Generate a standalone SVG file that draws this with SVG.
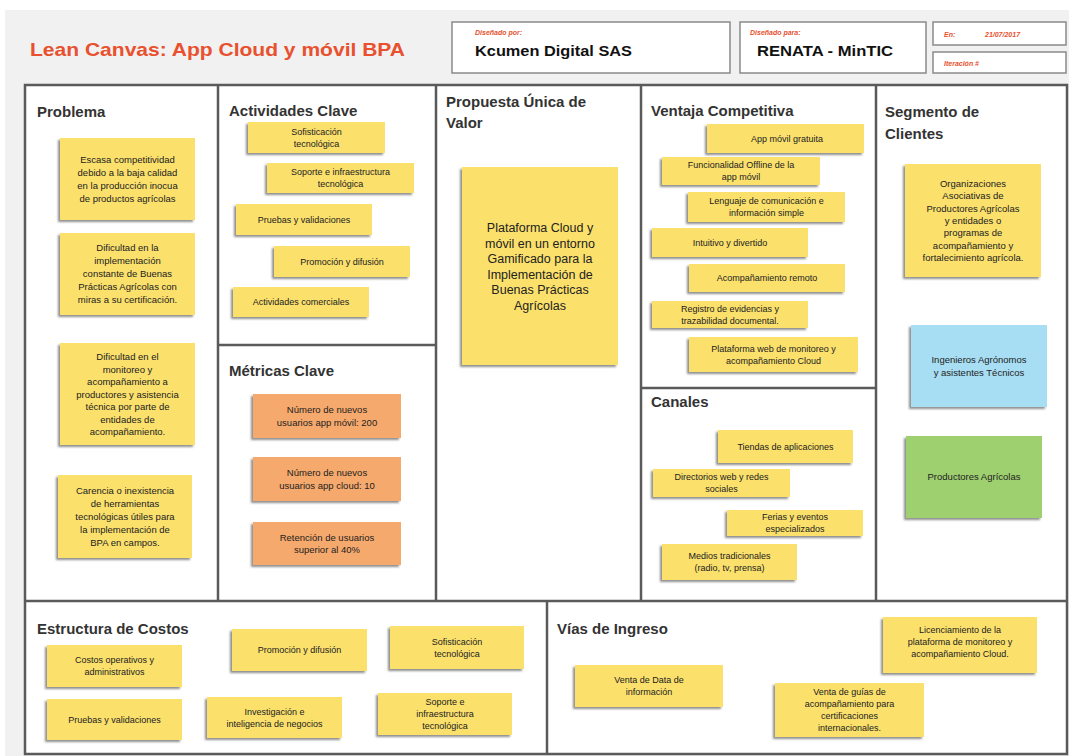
<svg xmlns="http://www.w3.org/2000/svg" width="1069" height="756" viewBox="0 0 1069 756">
<defs>
<filter id="sh" x="-10%" y="-10%" width="120%" height="130%">
<feDropShadow dx="-2" dy="2" stdDeviation="1.2" flood-color="#444" flood-opacity="0.6"/>
</filter>
<style>
.hd{font-family:"Liberation Sans",Arial,sans-serif;font-weight:bold;font-size:15px;fill:#333}
.n{font-family:"Liberation Sans",Arial,sans-serif;font-size:9px;fill:#222;text-anchor:middle}
.n95{font-size:9.5px}
.nb{font-size:12.5px}
.y{fill:#fbe06c;filter:url(#sh)}
.o{fill:#f6a96c;filter:url(#sh)}
.b{fill:#a8def3;filter:url(#sh)}
.g{fill:#9ed06f;filter:url(#sh)}
.ln{stroke:#5a5a5a;stroke-width:2.5;fill:none}
.hb{fill:#fff;stroke:#8a8a8a;stroke-width:1.5}
.lab{font-family:"Liberation Sans",Arial,sans-serif;font-style:italic;font-weight:bold;font-size:7px;fill:#e8502e}
</style>
</defs>
<rect x="0" y="0" width="1069" height="756" fill="#fff"/>
<rect x="5" y="10" width="1064" height="746" fill="#f1f1f1"/>
<text x="30" y="56" font-family="Liberation Sans,Arial,sans-serif" font-weight="bold" font-size="19" fill="#e8502e" textLength="375" lengthAdjust="spacingAndGlyphs">Lean Canvas: App Cloud y móvil BPA</text>
<g id="header">
<rect class="hb" x="452" y="22" width="278" height="51"/>
<text class="lab" x="475" y="35">Diseñado por:</text>
<text x="475" y="56" font-family="Liberation Sans,Arial,sans-serif" font-weight="bold" font-size="15" fill="#111" textLength="157" lengthAdjust="spacingAndGlyphs">Kcumen Digital SAS</text>
<rect class="hb" x="740" y="22" width="186" height="51"/>
<text class="lab" x="750" y="35">Diseñado para:</text>
<text x="757" y="56" font-family="Liberation Sans,Arial,sans-serif" font-weight="bold" font-size="15" fill="#111" textLength="136" lengthAdjust="spacingAndGlyphs">RENATA - MinTIC</text>
<rect class="hb" x="933" y="22" width="133" height="23"/>
<text class="lab" x="944" y="37">En:</text>
<text class="lab" x="985" y="37">21/07/2017</text>
<rect class="hb" x="933" y="52" width="133" height="21"/>
<text class="lab" x="944" y="66">Iteración #</text>
</g>
<rect x="25" y="85" width="1042" height="669" fill="#fff"/>
<g id="connectors">
<rect class="ln" x="25" y="85" width="1042" height="669"/>
<line class="ln" x1="218" y1="85" x2="218" y2="601"/>
<line class="ln" x1="436" y1="85" x2="436" y2="601"/>
<line class="ln" x1="641" y1="85" x2="641" y2="601"/>
<line class="ln" x1="876" y1="85" x2="876" y2="601"/>
<line class="ln" x1="25" y1="601" x2="1067" y2="601"/>
<line class="ln" x1="218" y1="345" x2="436" y2="345"/>
<line class="ln" x1="641" y1="388" x2="876" y2="388"/>
<line class="ln" x1="547" y1="601" x2="547" y2="754"/>
</g>
<g id="problema">
<text class="hd" x="37" y="117">Problema</text>
<rect class="y" x="60" y="138" width="135" height="82"/>
<text class="n n95"><tspan x="127.5" y="163">Escasa competitividad</tspan><tspan x="127.5" y="176">debido a la baja calidad</tspan><tspan x="127.5" y="189">en la producción inocua</tspan><tspan x="127.5" y="202">de productos agrícolas</tspan></text>
<rect class="y" x="60" y="233" width="135" height="82"/>
<text class="n n95"><tspan x="127.5" y="251">Dificultad en la</tspan><tspan x="127.5" y="264">implementación</tspan><tspan x="127.5" y="277">constante de Buenas</tspan><tspan x="127.5" y="290">Prácticas Agrícolas con</tspan><tspan x="127.5" y="303">miras a su certificación.</tspan></text>
<rect class="y" x="60" y="343" width="135" height="102"/>
<text class="n n95"><tspan x="127.5" y="360">Dificultad en el</tspan><tspan x="127.5" y="372.5">monitoreo y</tspan><tspan x="127.5" y="385">acompañamiento a</tspan><tspan x="127.5" y="397.5">productores y asistencia</tspan><tspan x="127.5" y="410">técnica por parte de</tspan><tspan x="127.5" y="422.5">entidades de</tspan><tspan x="127.5" y="435">acompañamiento.</tspan></text>
<rect class="y" x="58" y="475" width="134" height="83"/>
<text class="n n95"><tspan x="125" y="494">Carencia o inexistencia</tspan><tspan x="125" y="507">de herramientas</tspan><tspan x="125" y="520">tecnológicas útiles para</tspan><tspan x="125" y="533">la implementación de</tspan><tspan x="125" y="546">BPA en campos.</tspan></text>
</g>
<g id="actividades">
<text class="hd" x="229" y="116">Actividades Clave</text>
<rect class="y" x="248" y="122" width="137" height="31"/>
<text class="n"><tspan x="316.5" y="134.5">Sofisticación</tspan><tspan x="316.5" y="146.5">tecnológica</tspan></text>
<rect class="y" x="267" y="163" width="147" height="30"/>
<text class="n"><tspan x="340.5" y="175">Soporte e infraestructura</tspan><tspan x="340.5" y="187">tecnológica</tspan></text>
<rect class="y" x="236" y="204" width="136" height="31"/>
<text class="n" x="304" y="222.5">Pruebas y validaciones</text>
<rect class="y" x="274" y="246" width="136" height="31"/>
<text class="n" x="342" y="264.5">Promoción y difusión</text>
<rect class="y" x="233" y="287" width="136" height="30"/>
<text class="n" x="301" y="305">Actividades comerciales</text>
</g>
<g id="metricas">
<text class="hd" x="229" y="376">Métricas Clave</text>
<rect class="o" x="253" y="394" width="148" height="44"/>
<text class="n n95"><tspan x="327" y="413">Número de nuevos</tspan><tspan x="327" y="425.5">usuarios app móvil: 200</tspan></text>
<rect class="o" x="253" y="457" width="148" height="44"/>
<text class="n n95"><tspan x="327" y="476">Número de nuevos</tspan><tspan x="327" y="488.5">usuarios app cloud: 10</tspan></text>
<rect class="o" x="253" y="522" width="148" height="43"/>
<text class="n n95"><tspan x="327" y="540.5">Retención de usuarios</tspan><tspan x="327" y="553">superior al 40%</tspan></text>
</g>
<g id="propuesta">
<text class="hd" x="446" y="107">Propuesta Única de</text>
<text class="hd" x="446" y="128">Valor</text>
<rect class="y" x="462" y="167" width="156" height="198"/>
<text class="n nb"><tspan x="540" y="232">Plataforma Cloud y</tspan><tspan x="540" y="247.5">móvil en un entorno</tspan><tspan x="540" y="263">Gamificado para la</tspan><tspan x="540" y="278.5">Implementación de</tspan><tspan x="540" y="294">Buenas Prácticas</tspan><tspan x="540" y="309.5">Agrícolas</tspan></text>
</g>
<g id="ventaja">
<text class="hd" x="651" y="116">Ventaja Competitiva</text>
<rect class="y" x="707" y="124" width="157" height="29"/>
<text class="n" x="787" y="141.5">App móvil gratuita</text>
<rect class="y" x="662" y="157" width="158" height="28"/>
<text class="n"><tspan x="741" y="168">Funcionalidad Offline de la</tspan><tspan x="741" y="180">app móvil</tspan></text>
<rect class="y" x="688" y="192" width="157" height="30"/>
<text class="n"><tspan x="766.5" y="204">Lenguaje de comunicación e</tspan><tspan x="766.5" y="216">información simple</tspan></text>
<rect class="y" x="652" y="228" width="156" height="29"/>
<text class="n" x="730" y="245.5">Intuitivo y divertido</text>
<rect class="y" x="689" y="264" width="156" height="28"/>
<text class="n" x="767" y="281">Acompañamiento remoto</text>
<rect class="y" x="652" y="301" width="156" height="27"/>
<text class="n"><tspan x="730" y="311.5">Registro de evidencias y</tspan><tspan x="730" y="323.5">trazabilidad documental.</tspan></text>
<rect class="y" x="689" y="337" width="169" height="35"/>
<text class="n"><tspan x="773.5" y="351.5">Plataforma web de monitoreo y</tspan><tspan x="773.5" y="363.5">acompañamiento Cloud</tspan></text>
</g>
<g id="canales">
<text class="hd" x="651" y="407">Canales</text>
<rect class="y" x="718" y="430" width="135" height="33"/>
<text class="n" x="785.5" y="449.5">Tiendas de aplicaciones</text>
<rect class="y" x="653" y="469" width="137" height="28"/>
<text class="n"><tspan x="721.5" y="480">Directorios web y redes</tspan><tspan x="721.5" y="492">sociales</tspan></text>
<rect class="y" x="727" y="510" width="136" height="26"/>
<text class="n"><tspan x="795" y="520">Ferias y eventos</tspan><tspan x="795" y="532">especializados</tspan></text>
<rect class="y" x="662" y="544" width="135" height="36"/>
<text class="n"><tspan x="729.5" y="559">Medios tradicionales</tspan><tspan x="729.5" y="571">(radio, tv, prensa)</tspan></text>
</g>
<g id="segmento">
<text class="hd" x="885" y="117">Segmento de</text>
<text class="hd" x="885" y="139">Clientes</text>
<rect class="y" x="905" y="164" width="136" height="113"/>
<text class="n n95"><tspan x="973" y="187">Organizaciones</tspan><tspan x="973" y="199.3">Asociativas de</tspan><tspan x="973" y="211.6">Productores Agrícolas</tspan><tspan x="973" y="223.9">y entidades o</tspan><tspan x="973" y="236.2">programas de</tspan><tspan x="973" y="248.5">acompañamiento y</tspan><tspan x="973" y="260.8">fortalecimiento agrícola.</tspan></text>
<rect class="b" x="911" y="325" width="136" height="82"/>
<text class="n n95"><tspan x="979" y="363">Ingenieros Agrónomos</tspan><tspan x="979" y="376">y asistentes Técnicos</tspan></text>
<rect class="g" x="906" y="436" width="136" height="82"/>
<text class="n n95" x="974" y="480">Productores Agrícolas</text>
</g>
<g id="costos">
<text class="hd" x="37" y="634">Estructura de Costos</text>
<rect class="y" x="47" y="645" width="135" height="42"/>
<text class="n"><tspan x="114.5" y="663">Costos operativos y</tspan><tspan x="114.5" y="675">administrativos</tspan></text>
<rect class="y" x="232" y="629" width="135" height="42"/>
<text class="n" x="299.5" y="653">Promoción y difusión</text>
<rect class="y" x="390" y="626" width="134" height="43"/>
<text class="n"><tspan x="457" y="644.5">Sofisticación</tspan><tspan x="457" y="656.5">tecnológica</tspan></text>
<rect class="y" x="47" y="699" width="135" height="41"/>
<text class="n" x="114.5" y="722.5">Pruebas y validaciones</text>
<rect class="y" x="207" y="697" width="135" height="41"/>
<text class="n"><tspan x="274.5" y="714.5">Investigación e</tspan><tspan x="274.5" y="726.5">inteligencia de negocios</tspan></text>
<rect class="y" x="378" y="693" width="134" height="42"/>
<text class="n"><tspan x="445" y="705">Soporte e</tspan><tspan x="445" y="717">infraestructura</tspan><tspan x="445" y="729">tecnológica</tspan></text>
</g>
<g id="ingresos">
<text class="hd" x="557" y="634">Vías de Ingreso</text>
<rect class="y" x="575" y="665" width="148" height="42"/>
<text class="n"><tspan x="649" y="683">Venta de Data de</tspan><tspan x="649" y="695">información</tspan></text>
<rect class="y" x="775" y="683" width="149" height="54"/>
<text class="n"><tspan x="849.5" y="695">Venta de guías de</tspan><tspan x="849.5" y="707">acompañamiento para</tspan><tspan x="849.5" y="719">certificaciones</tspan><tspan x="849.5" y="731">internacionales.</tspan></text>
<rect class="y" x="883" y="617" width="154" height="56"/>
<text class="n"><tspan x="960" y="633">Licenciamiento de la</tspan><tspan x="960" y="645">plataforma de monitoreo y</tspan><tspan x="960" y="657">acompañamiento Cloud.</tspan></text>
</g>
</svg>
